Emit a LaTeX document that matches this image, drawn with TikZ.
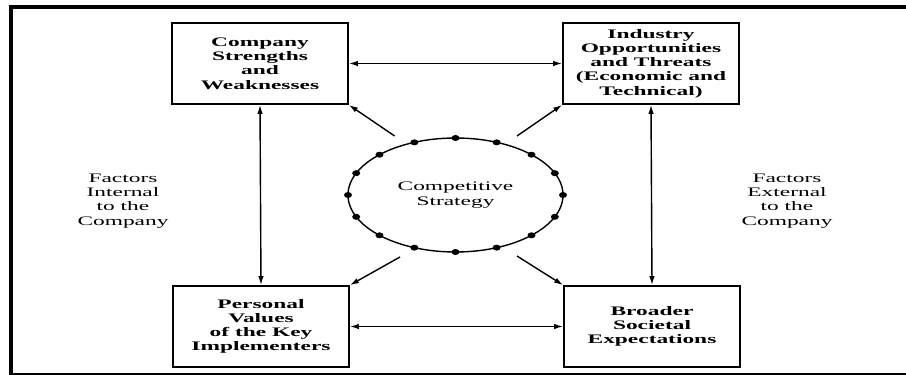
\documentclass[tikz,border=0pt]{standalone}
\usepackage{fontspec}
\setmainfont{Liberation Serif}[FakeStretch=1.8]
\usetikzlibrary{shapes.geometric,arrows.meta}

\tikzset{
  factorbox/.style={draw, line width=1.7pt, minimum width=176pt, minimum height=81pt,
    inner sep=0pt, align=center, font=\fontsize{13}{14.2}\selectfont\bfseries},
  sidelabel/.style={align=center, font=\fontsize{13}{14.2}\selectfont},
  link/.style={line width=1.4pt, {Latex[length=9pt,width=5.5pt]}-{Latex[length=9pt,width=5.5pt]}},
  push/.style={line width=1.4pt, -{Latex[length=9pt,width=5.5pt]}},
  bead/.style={fill=black}
}

\begin{document}
\begin{tikzpicture}[x=1pt, y=-1pt]
  \useasboundingbox (0,0) rectangle (906,375);
  \fill[white] (0,0) rectangle (906,375);

  % page frame
  \draw[line width=4.5pt] (9,7) -- (910,7);
  \draw[line width=4pt] (11,5) -- (11,378);
  \draw[line width=4pt] (9,374.5) -- (910,374.5);

  % the four factor boxes
  \node[factorbox] (sw) at (260,63.5) {Company\\Strengths\\and\\Weaknesses};
  \node[factorbox] (ot) at (651,63.5) {Industry\\Opportunities\\and Threats\\(Economic and\\Technical)};
  \node[factorbox] (pv) at (261,326.5) {Personal\\Values\\of the Key\\Implementers};
  \node[factorbox] (se) at (652,326.5) {Broader\\Societal\\Expectations};

  % central strategy ellipse with beads
  \node[draw, ellipse, line width=1.4pt, minimum width=215pt, minimum height=114pt,
        inner sep=0pt, align=center, font=\fontsize{13}{14.2}\selectfont] (cs) at (455.5,195)
        {Competitive\\Strategy};
  \begin{scope}[shift={(cs.center)}]
    \foreach \a in {0,22.5,...,337.5}
      \fill[bead] (\a:107.5 and 57) circle[x radius=4pt, y radius=3pt];
  \end{scope}

  % side labels
  \node[sidelabel] (int) at (123,201) {Factors\\Internal\\to the\\Company};
  \node[sidelabel] (ext) at (787,201) {Factors\\External\\to the\\Company};

  % two-way links between the boxes
  \draw[link] (sw.east) -- (ot.west);
  \draw[link] (pv.east) -- (se.west);
  \draw[link] (sw.south) -- (pv.north);
  \draw[link] (ot.south) -- (se.north);

  % arrows from the strategy out to the box corners
  \coordinate (d1) at (394.6,136);
  \coordinate (d2) at (517,136);
  \coordinate (d3) at (400,257);
  \coordinate (d4) at (517,256);
  \draw[push] (d1) -- (sw.south east);
  \draw[push] (d2) -- (ot.south west);
  \draw[push] (d3) -- (pv.north east);
  \draw[push] (d4) -- (se.north west);
\end{tikzpicture}
\end{document}
